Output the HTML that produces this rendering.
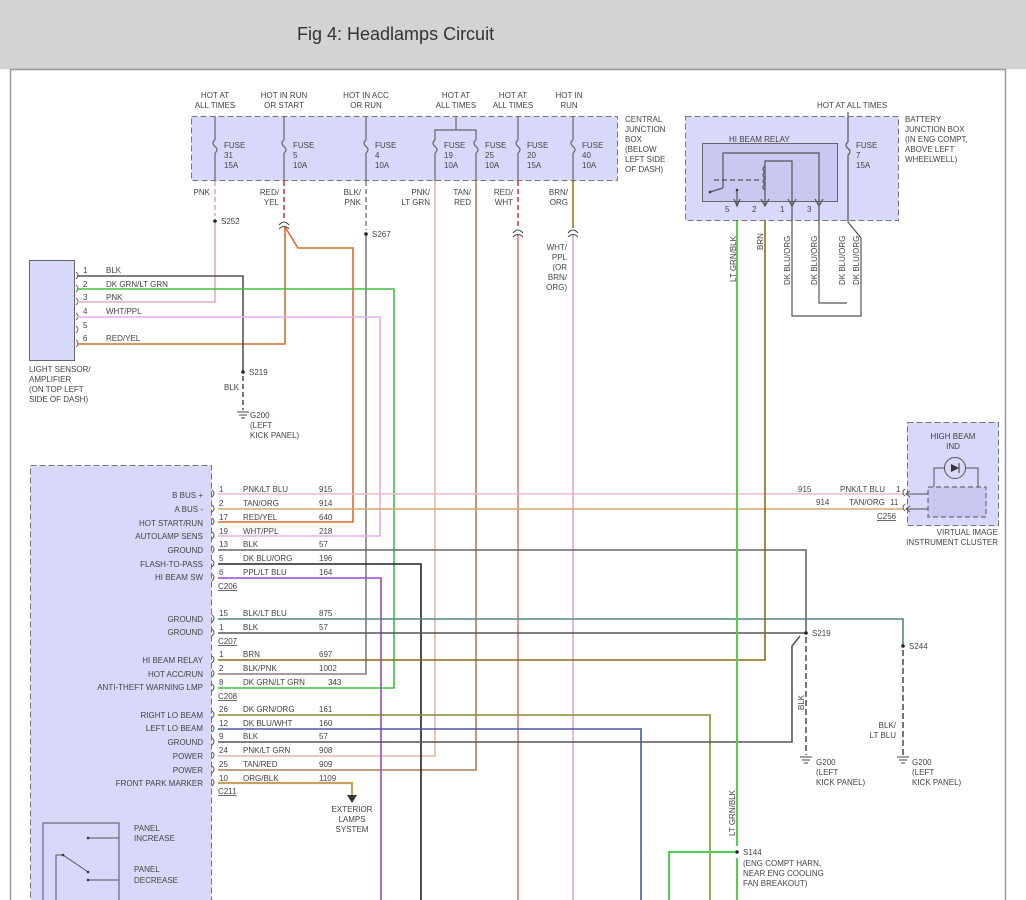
<!DOCTYPE html>
<html><head><meta charset="utf-8"><style>
html,body{margin:0;padding:0;width:1026px;height:900px;overflow:hidden;background:#fff}
svg{display:block}
text{font-family:"Liberation Sans",sans-serif;font-size:8px;fill:#444}
</style></head><body>
<svg width="1026" height="900" viewBox="0 0 1026 900" xmlns="http://www.w3.org/2000/svg">
<rect x="0" y="0" width="1026" height="69" fill="#d3d3d3"/>
<text x="297" y="40" style="font-size:18px;fill:#333">Fig 4: Headlamps Circuit</text>
<path d="M10.5 900V69.5H1005.5V900" fill="none" stroke="#999" stroke-width="1.5"/>

<!-- Central junction box -->
<rect x="191.5" y="116.5" width="426" height="64" fill="#d8d8fa" stroke="#777" stroke-dasharray="6,3"/>
<g text-anchor="middle">
<text x="215" y="98">HOT AT</text><text x="215" y="108">ALL TIMES</text>
<text x="284" y="98">HOT IN RUN</text><text x="284" y="108">OR START</text>
<text x="366" y="98">HOT IN ACC</text><text x="366" y="108">OR RUN</text>
<text x="456" y="98">HOT AT</text><text x="456" y="108">ALL TIMES</text>
<text x="513" y="98">HOT AT</text><text x="513" y="108">ALL TIMES</text>
<text x="569" y="98">HOT IN</text><text x="569" y="108">RUN</text>
</g>
<text x="625" y="122">CENTRAL</text><text x="625" y="132">JUNCTION</text><text x="625" y="142">BOX</text><text x="625" y="152">(BELOW</text><text x="625" y="162">LEFT SIDE</text><text x="625" y="172">OF DASH)</text>
<g stroke="#666" fill="none" stroke-width="1.2">
<path d="M215 116V140M215 153V181"/><path d="M284 116V140M284 153V181"/><path d="M366 116V140M366 153V181"/>
<path d="M456 116V130M435 181V153M435 140V130H476V140M476 153V181"/>
<path d="M518 116V140M518 153V181"/><path d="M573 116V140M573 153V181"/>
<path d="M215 140q-4 3 0 6.5q4 3 0 6.5M284 140q-4 3 0 6.5q4 3 0 6.5M366 140q-4 3 0 6.5q4 3 0 6.5M435 140q-4 3 0 6.5q4 3 0 6.5M476 140q-4 3 0 6.5q4 3 0 6.5M518 140q-4 3 0 6.5q4 3 0 6.5M573 140q-4 3 0 6.5q4 3 0 6.5"/>
</g>
<g>
<text x="224" y="148">FUSE</text><text x="224" y="158">31</text><text x="224" y="168">15A</text>
<text x="293" y="148">FUSE</text><text x="293" y="158">5</text><text x="293" y="168">10A</text>
<text x="375" y="148">FUSE</text><text x="375" y="158">4</text><text x="375" y="168">10A</text>
<text x="444" y="148">FUSE</text><text x="444" y="158">19</text><text x="444" y="168">10A</text>
<text x="485" y="148">FUSE</text><text x="485" y="158">25</text><text x="485" y="168">10A</text>
<text x="527" y="148">FUSE</text><text x="527" y="158">20</text><text x="527" y="168">15A</text>
<text x="582" y="148">FUSE</text><text x="582" y="158">40</text><text x="582" y="168">10A</text>
</g>
<g text-anchor="end">
<text x="210" y="195">PNK</text>
<text x="279" y="195">RED/</text><text x="279" y="205">YEL</text>
<text x="361" y="195">BLK/</text><text x="361" y="205">PNK</text>
<text x="430" y="195">PNK/</text><text x="430" y="205">LT GRN</text>
<text x="471" y="195">TAN/</text><text x="471" y="205">RED</text>
<text x="513" y="195">RED/</text><text x="513" y="205">WHT</text>
<text x="568" y="195">BRN/</text><text x="568" y="205">ORG</text>
<text x="567" y="250">WHT/</text><text x="567" y="260">PPL</text><text x="567" y="270">(OR</text><text x="567" y="280">BRN/</text><text x="567" y="290">ORG)</text>
</g>

<!-- Light sensor -->
<rect x="29.5" y="260.5" width="45" height="100" fill="#d8d8fa" stroke="#666"/>
<text x="29" y="372">LIGHT SENSOR/</text><text x="29" y="382">AMPLIFIER</text><text x="29" y="392">(ON TOP LEFT</text><text x="29" y="402">SIDE OF DASH)</text>
<g><text x="83" y="273">1</text><text x="106" y="273">BLK</text>
<text x="83" y="287">2</text><text x="106" y="287">DK GRN/LT GRN</text>
<text x="83" y="300">3</text><text x="106" y="300">PNK</text>
<text x="83" y="314">4</text><text x="106" y="314">WHT/PPL</text>
<text x="83" y="328">5</text>
<text x="83" y="341">6</text><text x="106" y="341">RED/YEL</text></g>
<g fill="none" stroke="#666"><path d="M76 272q4 3 0 7M76 285q4 3 0 7M76 298q4 3 0 7M76 313q4 3 0 7M76 326q4 3 0 7M76 340q4 3 0 7"/></g>

<!-- Wires -->
<g fill="none" stroke-width="1.6">
<path d="M215 181V216" stroke="#e8a8c0" stroke-dasharray="5,3"/>
<path d="M215 221V302H77" stroke="#e8a8c0"/>
<path d="M284 181V220" stroke="#d04040" stroke-dasharray="5,3"/>
<path d="M285 227V344H77" stroke="#e06a28"/>
<path d="M285 227L298 248H353V522H218" stroke="#e06a28"/>
<path d="M366 181V230" stroke="#888" stroke-dasharray="5,3"/>
<path d="M366 234V674H218" stroke="#8a7a7a"/>
<path d="M435 181V756H218" stroke="#e0b8a8"/>
<path d="M476 181V770H218" stroke="#b77a5a"/>
<path d="M518 181V228" stroke="#d04040" stroke-dasharray="5,3"/>
<path d="M518 234V900" stroke="#e07a7a"/>
<path d="M573 181V228" stroke="#9a7a10"/>
<path d="M573 234V900" stroke="#dba8e0"/>
<path d="M77 276H243V372" stroke="#555"/>
<path d="M243 376V410" stroke="#555" stroke-dasharray="5,3"/>
<path d="M77 289H394V688H218" stroke="#40c040"/>
<path d="M77 317H380V536H218" stroke="#e0b0e8"/>
<path d="M218 494H904" stroke="#f0b8c8"/>
<path d="M218 509H904" stroke="#d8a868"/>
<path d="M218 550H806V633" stroke="#666"/>
<path d="M218 564H421V900" stroke="#222"/>
<path d="M218 578H381V900" stroke="#9848d8"/>
<path d="M218 619H903V646" stroke="#508888"/>
<path d="M218 633H806" stroke="#555"/>
<path d="M806 637V755" stroke="#555" stroke-dasharray="6,3"/>
<path d="M903 650V755" stroke="#555" stroke-dasharray="6,3"/>
<path d="M218 660H765V206" stroke="#8a6a20"/>
<path d="M218 715H710V900" stroke="#8a8a30"/>
<path d="M218 729H641V900" stroke="#4858a0"/>
<path d="M218 742H792V646L800 636" stroke="#555"/>
<path d="M218 783H352V795" stroke="#c8a060" stroke-width="2.2"/>
<path d="M737 206V846M737 858V900" stroke="#50d050" stroke-width="2"/>
<path d="M735 852H669V900" stroke="#50d050" stroke-width="2"/>
</g>
<path d="M347 795L357 795L352 803Z" fill="#333"/>
<g text-anchor="middle"><text x="352" y="812">EXTERIOR</text><text x="352" y="822">LAMPS</text><text x="352" y="832">SYSTEM</text></g>

<!-- splices/connectors -->
<g fill="#222"><circle cx="215" cy="221" r="1.8"/><circle cx="366" cy="234" r="1.8"/><circle cx="243" cy="372" r="1.8"/><circle cx="806" cy="633" r="1.8"/><circle cx="903" cy="646" r="1.8"/><circle cx="737" cy="852" r="1.8"/></g>
<g fill="none" stroke="#444"><path d="M279 225q5-6 10 0M279 229q5-5 10 0M513 233q5-6 10 0M513 237q5-5 10 0M568 233q5-6 10 0M568 237q5-5 10 0"/></g>
<text x="221" y="224">S252</text><text x="372" y="237">S267</text><text x="249" y="375">S219</text>
<text x="224" y="390">BLK</text>
<text x="812" y="636">S219</text><text x="909" y="649">S244</text><text x="743" y="855">S144</text>
<text x="743" y="866">(ENG COMPT HARN,</text><text x="743" y="876">NEAR ENG COOLING</text><text x="743" y="886">FAN BREAKOUT)</text>
<!-- grounds -->
<g stroke="#444" fill="none"><path d="M237 412H249M239 415H247M241 418H245"/><path d="M800 757H812M802 760H810M804 763H808"/><path d="M897 757H909M899 760H907M901 763H905"/></g>
<text x="250" y="418">G200</text><text x="250" y="428">(LEFT</text><text x="250" y="438">KICK PANEL)</text>
<text x="816" y="765">G200</text><text x="816" y="775">(LEFT</text><text x="816" y="785">KICK PANEL)</text>
<text x="912" y="765">G200</text><text x="912" y="775">(LEFT</text><text x="912" y="785">KICK PANEL)</text>
<text transform="translate(804,710) rotate(-90)">BLK</text>
<text x="896" y="728" text-anchor="end">BLK/</text><text x="896" y="738" text-anchor="end">LT BLU</text>
<text transform="translate(735,836) rotate(-90)">LT GRN/BLK</text>

<!-- Module -->
<rect x="30.5" y="465.5" width="181" height="440" fill="#d8d8fa" stroke="#777" stroke-dasharray="6,3"/>
<g text-anchor="end">
<text x="203" y="498">B BUS +</text><text x="203" y="512">A BUS -</text><text x="203" y="526">HOT START/RUN</text><text x="203" y="539">AUTOLAMP SENS</text><text x="203" y="553">GROUND</text><text x="203" y="567">FLASH-TO-PASS</text><text x="203" y="580">HI BEAM SW</text>
<text x="203" y="622">GROUND</text><text x="203" y="635">GROUND</text>
<text x="203" y="663">HI BEAM RELAY</text><text x="203" y="677">HOT ACC/RUN</text><text x="203" y="690">ANTI-THEFT WARNING LMP</text>
<text x="203" y="718">RIGHT LO BEAM</text><text x="203" y="731">LEFT LO BEAM</text><text x="203" y="745">GROUND</text><text x="203" y="759">POWER</text><text x="203" y="773">POWER</text><text x="203" y="786">FRONT PARK MARKER</text>
</g>
<g fill="none" stroke="#555"><path d="M212 490q4 3 0 7M212 505q4 3 0 7M212 518q4 3 0 7M212 532q4 3 0 7M212 546q4 3 0 7M212 560q4 3 0 7M212 574q4 3 0 7M212 615q4 3 0 7M212 629q4 3 0 7M212 656q4 3 0 7M212 670q4 3 0 7M212 684q4 3 0 7M212 711q4 3 0 7M212 725q4 3 0 7M212 738q4 3 0 7M212 752q4 3 0 7M212 766q4 3 0 7M212 779q4 3 0 7"/></g>
<g>
<text x="219" y="492">1</text><text x="243" y="492">PNK/LT BLU</text><text x="319" y="492">915</text>
<text x="219" y="506">2</text><text x="243" y="506">TAN/ORG</text><text x="319" y="506">914</text>
<text x="219" y="520">17</text><text x="243" y="520">RED/YEL</text><text x="319" y="520">640</text>
<text x="219" y="534">19</text><text x="243" y="534">WHT/PPL</text><text x="319" y="534">218</text>
<text x="219" y="547">13</text><text x="243" y="547">BLK</text><text x="319" y="547">57</text>
<text x="219" y="561">5</text><text x="243" y="561">DK BLU/ORG</text><text x="319" y="561">196</text>
<text x="219" y="575">6</text><text x="243" y="575">PPL/LT BLU</text><text x="319" y="575">164</text>
<text x="218" y="589" text-decoration="underline">C206</text>
<text x="219" y="616">15</text><text x="243" y="616">BLK/LT BLU</text><text x="319" y="616">875</text>
<text x="219" y="630">1</text><text x="243" y="630">BLK</text><text x="319" y="630">57</text>
<text x="218" y="644" text-decoration="underline">C207</text>
<text x="219" y="657">1</text><text x="243" y="657">BRN</text><text x="319" y="657">697</text>
<text x="219" y="671">2</text><text x="243" y="671">BLK/PNK</text><text x="319" y="671">1002</text>
<text x="219" y="685">8</text><text x="243" y="685">DK GRN/LT GRN</text><text x="328" y="685">343</text>
<text x="218" y="699" text-decoration="underline">C208</text>
<text x="219" y="712">26</text><text x="243" y="712">DK GRN/ORG</text><text x="319" y="712">161</text>
<text x="219" y="726">12</text><text x="243" y="726">DK BLU/WHT</text><text x="319" y="726">160</text>
<text x="219" y="739">9</text><text x="243" y="739">BLK</text><text x="319" y="739">57</text>
<text x="219" y="753">24</text><text x="243" y="753">PNK/LT GRN</text><text x="319" y="753">908</text>
<text x="219" y="767">25</text><text x="243" y="767">TAN/RED</text><text x="319" y="767">909</text>
<text x="219" y="781">10</text><text x="243" y="781">ORG/BLK</text><text x="319" y="781">1109</text>
<text x="218" y="794" text-decoration="underline">C211</text>
</g>
<!-- switch -->
<g stroke="#555" fill="none"><path d="M43 900V823H119V900"/><path d="M88 838H119M88 880H119M56 900V855H63L88 872"/></g>
<g fill="#333"><circle cx="88" cy="838" r="1.3"/><circle cx="88" cy="880" r="1.3"/><circle cx="63" cy="855" r="1.3"/><circle cx="88" cy="872" r="1.3"/></g>
<text x="134" y="831">PANEL</text><text x="134" y="841">INCREASE</text><text x="134" y="872">PANEL</text><text x="134" y="883">DECREASE</text>

<!-- Battery junction box -->
<rect x="685.5" y="116.5" width="213" height="104" fill="#d8d8fa" stroke="#777" stroke-dasharray="6,3"/>
<text x="817" y="108">HOT AT ALL TIMES</text>
<text x="905" y="122">BATTERY</text><text x="905" y="132">JUNCTION BOX</text><text x="905" y="142">(IN ENG COMPT,</text><text x="905" y="152">ABOVE LEFT</text><text x="905" y="162">WHEELWELL)</text>
<rect x="702.5" y="143.5" width="135" height="58" fill="#c8c8f0" stroke="#666"/>
<text x="729" y="142">HI BEAM RELAY</text>
<text x="856" y="148">FUSE</text><text x="856" y="158">7</text><text x="856" y="168">15A</text>
<g fill="none" stroke="#555" stroke-width="1.2">
<path d="M848 112V142M848 155V222L861 238V316H792V206"/>
<path d="M848 142q-4 3 0 6.5q4 3 0 6.5"/>
<path d="M819 206V303H847"/>
<path d="M723 188V153H819V206"/>
<path d="M765 206V161H792V206"/>
<path d="M765 166q-4 3 0 6q-4 3 0 6q-4 3 0 6q-4 3 0 6"/>
<path d="M723 188L710 192"/>
<path d="M714 180H762" stroke-dasharray="5,3"/>
<path d="M737 191V206M734 199L737 206L740 199M761 199L765 206L769 199M788 199L792 206L796 199M815 199L819 206L823 199"/>
</g>
<circle cx="737" cy="190" r="1.3" fill="#333"/><circle cx="710" cy="192" r="1.3" fill="#333"/>
<text x="725" y="212">5</text><text x="752" y="212">2</text><text x="780" y="212">1</text><text x="807" y="212">3</text>
<g>
<text transform="translate(736,282) rotate(-90)">LT GRN/BLK</text>
<text transform="translate(763,250) rotate(-90)">BRN</text>
<text transform="translate(790,285) rotate(-90)">DK BLU/ORG</text>
<text transform="translate(817,285) rotate(-90)">DK BLU/ORG</text>
<text transform="translate(845,285) rotate(-90)">DK BLU/ORG</text>
<text transform="translate(859,285) rotate(-90)">DK BLU/ORG</text>
</g>

<!-- Instrument cluster -->
<rect x="907.5" y="422.5" width="91" height="103" fill="#d8d8fa" stroke="#777" stroke-dasharray="6,3"/>
<g text-anchor="middle"><text x="953" y="439">HIGH BEAM</text><text x="953" y="449">IND</text></g>
<circle cx="955" cy="468" r="10.5" fill="none" stroke="#555"/>
<path d="M951 464L959 468L951 472Z" fill="#333"/><path d="M959 463V473" stroke="#333"/>
<g fill="none" stroke="#555"><path d="M944 468H934V487M966 468H978V487"/><rect x="928" y="487" width="58" height="30" stroke-dasharray="5,3" fill="#c8c8f0"/>
<path d="M906 494H928M906 509H928M910 491L906 494L910 497M910 506L906 509L910 512M905 489q-4 3 0 7M905 504q-4 3 0 7"/></g>
<text x="798" y="492">915</text><text x="840" y="492">PNK/LT BLU</text><text x="896" y="492">1</text>
<text x="816" y="505">914</text><text x="849" y="505">TAN/ORG</text><text x="890" y="505">11</text>
<text x="877" y="519" text-decoration="underline">C256</text>
<g text-anchor="end"><text x="998" y="535">VIRTUAL IMAGE</text><text x="998" y="545">INSTRUMENT CLUSTER</text></g>
</svg>
</body></html>
